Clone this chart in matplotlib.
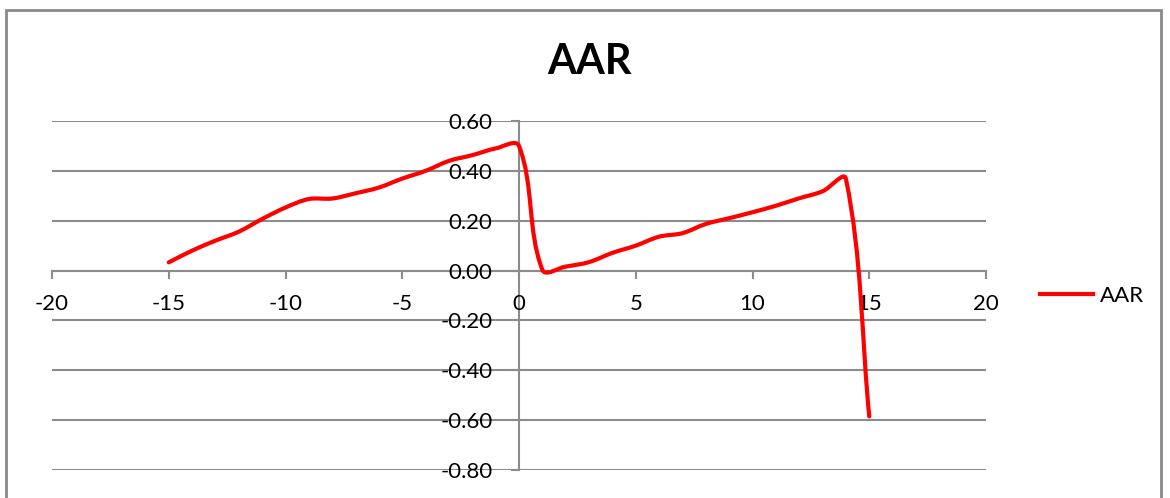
import numpy as np
import matplotlib.pyplot as plt
from matplotlib.path import Path
from matplotlib.patches import PathPatch, Rectangle
from matplotlib.lines import Line2D

# event window days and average abnormal returns
days = [-15, -14, -13, -12, -11, -10, -9, -8, -7, -6, -5, -4, -3, -2, -1,
        0, 1, 2, 3, 4, 5, 6, 7, 8, 9, 10, 11, 12, 13, 14, 15]
aar = [0.033, 0.08, 0.12, 0.156, 0.207, 0.253, 0.287, 0.289, 0.31, 0.333, 0.369,
       0.40, 0.44, 0.463, 0.49,
       0.50, 0.003, 0.016, 0.034, 0.071, 0.10, 0.136, 0.15, 0.187, 0.21,
       0.234, 0.26, 0.29, 0.318, 0.368, -0.585]

x_ticks = [-20, -15, -10, -5, 0, 5, 10, 15, 20]
y_ticks = [-0.8, -0.6, -0.4, -0.2, 0.0, 0.2, 0.4, 0.6]

plt.rcParams['font.family'] = ['Lato', 'DejaVu Sans']

GRID = '#8c8c8c'
RED = '#ff0000'


def smooth_path(ax, xs, ys):
    # excel style smoothing, worked out in screen space:
    # tangent along neighbours, handle length scaled by the segment length
    pts = ax.transData.transform(np.column_stack([xs, ys]))
    n = len(pts)
    fwd, back = [], []
    for i in range(n):
        prev = pts[i - 1] if i > 0 else pts[i]
        nxt = pts[i + 1] if i < n - 1 else pts[i]
        d = nxt - prev
        d = d / np.hypot(*d)
        l_next = np.hypot(*(nxt - pts[i]))
        l_prev = np.hypot(*(pts[i] - prev))
        fwd.append(pts[i] + d * l_next / 3)
        back.append(pts[i] - d * l_prev / 3)
    verts = [pts[0]]
    codes = [Path.MOVETO]
    for i in range(n - 1):
        verts += [fwd[i], back[i + 1], pts[i + 1]]
        codes += [Path.CURVE4] * 3
    verts = ax.transData.inverted().transform(np.array(verts))
    return Path(verts, codes)


fig = plt.figure(figsize=(11.7, 4.98), dpi=100)
ax = fig.add_axes([52 / 1170, 28 / 498, 934 / 1170, 349 / 498])

ax.set_xlim(-20, 20)
ax.set_ylim(-0.8, 0.6)
ax.set_xticks(x_ticks)
ax.set_yticks(y_ticks)
ax.set_xticklabels([str(v) for v in x_ticks])
ax.set_yticklabels(['%.2f' % v for v in y_ticks])

for v in y_ticks:
    ax.axhline(v, color=GRID, lw=1.5, zorder=1)

for s in ['top', 'right']:
    ax.spines[s].set_visible(False)
ax.spines['left'].set_position(('data', 0))
ax.spines['bottom'].set_position(('data', 0))
for s in ['left', 'bottom']:
    ax.spines[s].set_color(GRID)
    ax.spines[s].set_linewidth(1.5)
    ax.spines[s].set_zorder(1)

ax.tick_params(axis='x', direction='out', length=6, width=1.5, color=GRID,
               labelsize=16, pad=11)
ax.tick_params(axis='y', direction='out', length=6, width=1.5, color=GRID,
               labelsize=16, pad=13)

patch = PathPatch(smooth_path(ax, days, aar), facecolor='none', edgecolor=RED,
                  lw=3, capstyle='round', joinstyle='round', zorder=3)
ax.add_patch(patch)

fig.text(589 / 1170, 1 - 62 / 498, 'AAR', fontsize=30, fontweight='bold',
         ha='center', va='center')

handle = Line2D([], [], color=RED, lw=3)
fig.legend([handle], ['AAR'], loc='center left', bbox_to_anchor=(1040 / 1170, 1 - 296 / 498),
           frameon=False, fontsize=16, handlelength=2.4, handletextpad=0.3,
           borderpad=0, borderaxespad=0)

fig.patches.append(Rectangle((6 / 1170, -0.1), 1155 / 1170, 1.1 - 10 / 498,
                             transform=fig.transFigure, fill=False,
                             edgecolor='#8a8a8a', lw=2))

fig.savefig('out.png', dpi=100)
